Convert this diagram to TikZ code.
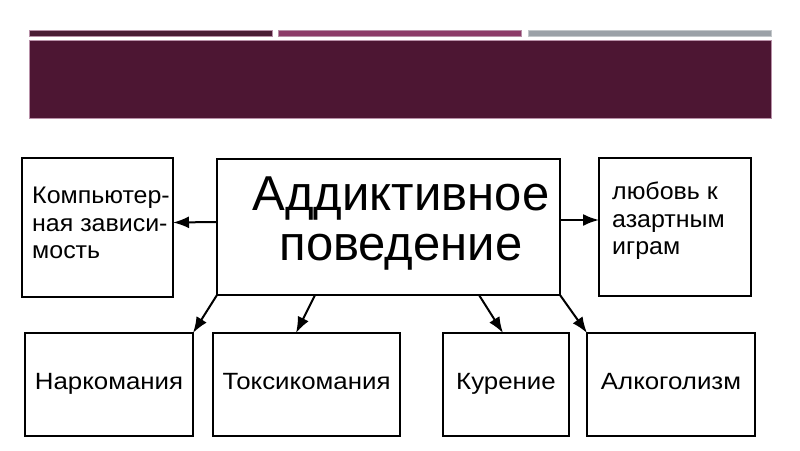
\documentclass[tikz,border=0pt]{standalone}
\usepackage{fontspec}
\setmainfont{Liberation Sans}
\newfontfamily\widesans[FakeStretch=1.1]{Liberation Sans}
\newfontfamily\midsans[FakeStretch=1.04]{Liberation Sans}
\usetikzlibrary{arrows.meta}
\definecolor{plumdark}{HTML}{4D1633}
\definecolor{barone}{HTML}{4B1C35}
\definecolor{bartwo}{HTML}{8C3B68}
\definecolor{barthree}{HTML}{9BA1A7}
\definecolor{rim}{HTML}{B890A8}
\tikzset{
  box/.style={draw, line width=2.3pt, rectangle, inner sep=0pt, outer sep=0pt},
  lbl/.style={font=\midsans\fontsize{24}{27.5}\selectfont, align=left, inner sep=0pt},
  lowlbl/.style={font=\widesans\fontsize{23.5}{27.5}\selectfont, inner sep=0pt},
  big/.style={font=\fontsize{49}{50}\selectfont, align=center, inner sep=0pt},
  arr/.style={-{Latex[length=16pt,width=12pt]}, line width=2pt},
  bar/.style={draw=rim, line width=0.5pt}
}
\begin{document}
\begin{tikzpicture}[x=1pt,y=-1pt]
\useasboundingbox (0,0) rectangle (800,450);
\fill[white] (0,0) rectangle (800,450);
% header
\filldraw[bar, fill=barone] (29,30) rectangle (272,36);
\filldraw[bar, fill=bartwo] (278,30) rectangle (521,36);
\filldraw[bar, fill=barthree, draw=barthree!60] (528,30) rectangle (771,36);
\filldraw[fill=plumdark, draw=rim, line width=0.8pt] (29,40) rectangle (771,118);
% boxes
\node[box, minimum width=151pt, minimum height=139pt] (comp) at (97.5,227.5) {};
\node[box, minimum width=343pt, minimum height=136pt] (main) at (388.5,227) {};
\node[box, minimum width=152pt, minimum height=138pt] (love) at (675,227) {};
\node[box, minimum width=168pt, minimum height=103pt] (nark) at (109,384.5) {};
\node[box, minimum width=187pt, minimum height=103pt] (toks) at (306.5,384.5) {};
\node[box, minimum width=126pt, minimum height=103pt] (kur) at (506,384.5) {};
\node[box, minimum width=168pt, minimum height=103pt] (alko) at (671,384.5) {};
% texts
\node[lbl, anchor=north west] (compt) at (32,187) {Компьютер-\\ная зависи-\\мость};
\node[lbl, anchor=north west] (lovet) at (612,182) {любовь к\\азартным\\играм};
\node[big, anchor=north] (maint) at (401,177) {Аддиктивное\\поведение};
\node[lowlbl, anchor=base] (narkt) at (nark.center |- 0,389) {Наркомания};
\node[lowlbl, anchor=base] (tokst) at (toks.center |- 0,389) {Токсикомания};
\node[lowlbl, anchor=base] (kurt) at (kur.center |- 0,389) {Курение};
\node[lowlbl, anchor=base] (alkot) at (alko.center |- 0,389) {Алкоголизм};
% arrows
\draw[arr] ([yshift=5pt]main.west) -- ([yshift=5pt]comp.east);
\draw[arr] ([yshift=7pt]main.east) -- ([yshift=7pt]love.west);
\draw[arr] (main.south west) -- (nark.north east);
\draw[arr] ([xshift=-73.5pt]main.south) -- ([xshift=-10.5pt]toks.north);
\draw[arr] ([xshift=90.5pt]main.south) -- ([xshift=-3pt]kur.north);
\draw[arr] (main.south east) -- (alko.north west);
\end{tikzpicture}
\end{document}
